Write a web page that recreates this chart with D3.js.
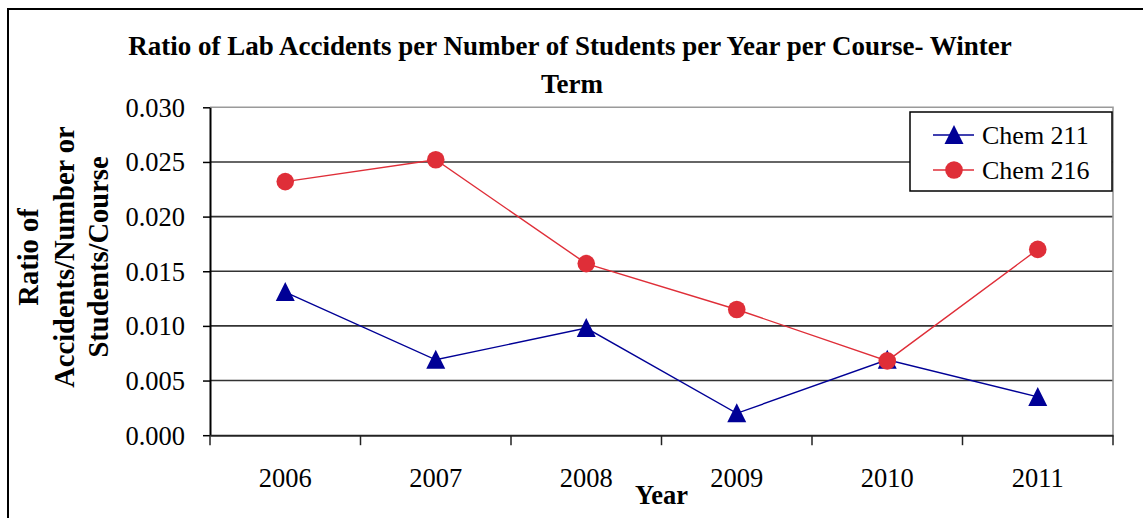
<!DOCTYPE html>
<html>
<head>
<meta charset="utf-8">
<script src="https://cdn.jsdelivr.net/npm/d3@7"></script>
<style>
  html, body { margin: 0; padding: 0; background: #fff; }
  svg { display: block; }
  text { font-family: "Liberation Serif", "Times New Roman", serif; fill: #000; }
</style>
</head>
<body>
<svg id="chart" width="1143" height="518"></svg>
<script>
// Winter-term lab accident ratios by course
const years = ["2006", "2007", "2008", "2009", "2010", "2011"];
const chem211 = [0.0131, 0.0069, 0.0098, 0.0020, 0.0069, 0.0035];
const chem216 = [0.0232, 0.0252, 0.0157, 0.0115, 0.0068, 0.0170];
const yTicks = [0, 0.005, 0.010, 0.015, 0.020, 0.025, 0.030];
const seriesNames = ["Chem 211", "Chem 216"];

const blue = "#000096";
const red = "#df2e38";

const svg = d3.select("#chart");

// outer chart frame (runs past the right and bottom edges)
svg.append("rect")
  .attr("x", 8).attr("y", 9)
  .attr("width", 1300).attr("height", 700)
  .attr("fill", "#fff").attr("stroke", "#000").attr("stroke-width", 2);

const plot = { left: 210, right: 1113, top: 107.3, bottom: 435.2 };

const x = d3.scaleBand().domain(years).range([plot.left, plot.right]).padding(0);
const y = d3.scaleLinear().domain([0, 0.03]).range([plot.bottom, plot.top]);
const cx = d => x(d) + x.bandwidth() / 2;

// horizontal gridlines
svg.append("g")
  .selectAll("line")
  .data(yTicks.filter(t => t > 0 && t < 0.03))
  .join("line")
  .attr("x1", plot.left).attr("x2", plot.right)
  .attr("y1", d => y(d)).attr("y2", d => y(d))
  .attr("stroke", "#333").attr("stroke-width", 1.6);

// plot area border (top and right)
svg.append("path")
  .attr("d", `M${plot.left},${y(0.03)}H${plot.right}V${plot.bottom}`)
  .attr("fill", "none").attr("stroke", "#9a9a9a").attr("stroke-width", 1.6);

// y axis
const yAxis = svg.append("g")
  .attr("transform", `translate(${plot.left},0)`)
  .call(d3.axisLeft(y).tickValues(yTicks).tickFormat(d3.format(".3f")).tickSize(7).tickSizeOuter(0).tickPadding(18));
yAxis.select(".domain").attr("stroke", "#000").attr("stroke-width", 2);
yAxis.selectAll(".tick line").attr("stroke", "#000").attr("stroke-width", 1.5);
yAxis.selectAll(".tick text")
  .attr("font-family", "Liberation Serif").attr("font-size", 26.5).attr("fill", "#000")
  .attr("dy", "0.34em");

// x axis: labels centered in categories, ticks on category boundaries
const xAxis = svg.append("g")
  .attr("transform", `translate(0,${plot.bottom})`)
  .call(d3.axisBottom(x).tickSize(0).tickSizeOuter(0).tickPadding(33));
xAxis.select(".domain").attr("stroke", "#222").attr("stroke-width", 2);
xAxis.selectAll(".tick text")
  .attr("font-family", "Liberation Serif").attr("font-size", 26.5).attr("fill", "#000");

const bounds = years.map(d => x(d)).concat([x.range()[1]]);
svg.append("g")
  .selectAll("line")
  .data(bounds)
  .join("line")
  .attr("x1", d => d).attr("x2", d => d)
  .attr("y1", plot.bottom).attr("y2", plot.bottom + 10)
  .attr("stroke", "#222").attr("stroke-width", 1.5);

// series
const line = d3.line().x(d => cx(d.year)).y(d => y(d.v));
const toPts = arr => years.map((yr, i) => ({ year: yr, v: arr[i] }));

const triPath = (px, py) => `M${px},${py - 10}L${px + 9.5},${py + 9}L${px - 9.5},${py + 9}Z`;

svg.append("path")
  .datum(toPts(chem211))
  .attr("d", line).attr("fill", "none").attr("stroke", blue).attr("stroke-width", 1.4);
svg.append("path")
  .datum(toPts(chem216))
  .attr("d", line).attr("fill", "none").attr("stroke", red).attr("stroke-width", 1.4);

svg.append("g").selectAll("path")
  .data(toPts(chem211))
  .join("path")
  .attr("d", d => triPath(cx(d.year), y(d.v)))
  .attr("fill", blue);

svg.append("g").selectAll("circle")
  .data(toPts(chem216))
  .join("circle")
  .attr("cx", d => cx(d.year)).attr("cy", d => y(d.v)).attr("r", 8.8)
  .attr("fill", red);

// legend
const lg = svg.append("g");
lg.append("rect")
  .attr("x", 910).attr("y", 112).attr("width", 202).attr("height", 79)
  .attr("fill", "#fff").attr("stroke", "#000").attr("stroke-width", 1.5);
const rows = [
  { name: seriesNames[0], color: blue, shape: "tri", cy: 135 },
  { name: seriesNames[1], color: red, shape: "circle", cy: 170 }
];
rows.forEach(r => {
  lg.append("line")
    .attr("x1", 933).attr("x2", 974).attr("y1", r.cy).attr("y2", r.cy)
    .attr("stroke", r.color).attr("stroke-width", 1.4);
  if (r.shape === "tri") {
    lg.append("path").attr("d", triPath(954, r.cy)).attr("fill", r.color);
  } else {
    lg.append("circle").attr("cx", 954).attr("cy", r.cy).attr("r", 8.8).attr("fill", r.color);
  }
  lg.append("text")
    .attr("x", 982).attr("y", r.cy).attr("dy", "0.34em")
    .attr("font-size", 26).text(r.name);
});

// chart title
const title = svg.append("text")
  .attr("text-anchor", "middle").attr("font-weight", "bold").attr("font-size", 27);
title.append("tspan").attr("x", 570).attr("y", 55)
  .text("Ratio of Lab Accidents per Number of Students per Year per Course- Winter");
title.append("tspan").attr("x", 572).attr("y", 93).text("Term");

// axis titles
const yTitle = svg.append("text")
  .attr("text-anchor", "middle").attr("font-weight", "bold").attr("font-size", 28.5)
  .attr("transform", "translate(0,257) rotate(-90)");
[["Ratio of", 37.5], ["Accidents/Number or", 74], ["Students/Course", 108]].forEach(([t, bx]) => {
  yTitle.append("tspan").attr("x", 0).attr("y", bx).text(t);
});

svg.append("text")
  .attr("x", (plot.left + plot.right) / 2).attr("y", 504)
  .attr("text-anchor", "middle").attr("font-weight", "bold").attr("font-size", 26.5)
  .text("Year");
</script>
</body>
</html>
